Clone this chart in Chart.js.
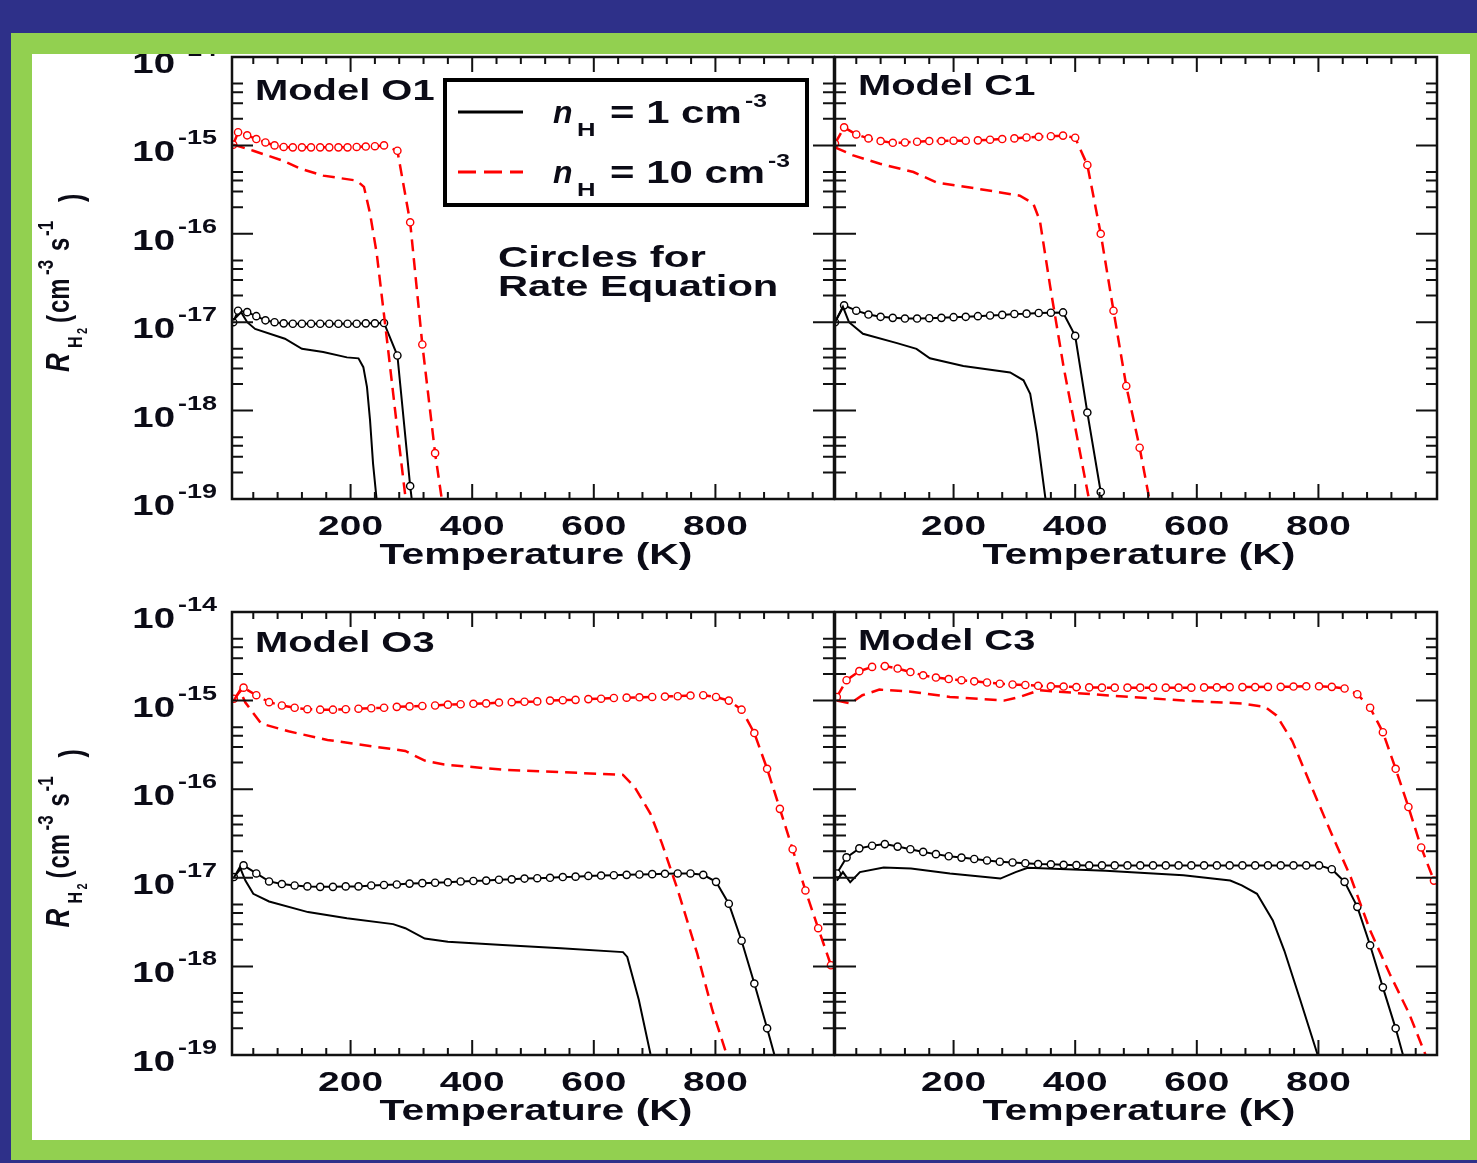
<!DOCTYPE html>
<html>
<head>
<meta charset="utf-8">
<script src="https://cdn.jsdelivr.net/npm/chart.js@4.4.1/dist/chart.umd.min.js"></script>
<style>
html, body { margin: 0; padding: 0; overflow: hidden; background: #2e3089; width: 1477px; height: 1163px; }
#white { position: absolute; left: 32px; top: 54px; width: 1438px; height: 1086px; background: #fff; }
#frame { position: absolute; left: 11px; top: 33px; width: 1480px; height: 1127px; box-sizing: border-box;
         border: 21px solid #92d050; border-bottom-width: 20px; z-index: 5; pointer-events: none; }
canvas { position: absolute; left: 0; top: 0; }
</style>
</head>
<body>
<div id="white"></div>
<canvas id="pO1" width="1477" height="1163"></canvas>
<canvas id="pC1" width="1477" height="1163"></canvas>
<canvas id="pO3" width="1477" height="1163"></canvas>
<canvas id="pC3" width="1477" height="1163"></canvas>
<div id="frame"></div>
<script>
// axis ticks
var xTickLabels = [200, 400, 600, 800];
var yTickExps = [-19, -18, -17, -16, -15, -14];

// ---- Model O1 ----
var o1_T_line1 = [7, 20, 30, 43, 92, 120, 155, 194, 213, 221, 227, 232, 237, 243];
var o1_R_line1 = [1.05e-17, 1.3e-17, 1.0e-17, 8.4e-18, 6.5e-18, 5.0e-18, 4.6e-18, 4.0e-18, 3.9e-18, 3.1e-18, 1.84e-18, 7.8e-19, 2.5e-19, 9.6e-20];
var o1_T_line10 = [7, 40, 89, 116, 155, 210, 222, 232, 243, 260, 275, 292];
var o1_R_line10 = [1.02e-15, 8.7e-16, 6.7e-16, 5.5e-16, 4.55e-16, 4.0e-16, 3.4e-16, 1.7e-16, 6.0e-17, 6.2e-18, 7.9e-19, 8.3e-20];
var o1_T_rate = [7, 15, 30, 45, 60, 75, 90, 105, 120, 135, 150, 165, 180, 195, 210, 225, 240, 255, 277, 298, 318, 339, 352];
var o1_R_rate1 = [1.0e-17, 1.35e-17, 1.3e-17, 1.17e-17, 1.05e-17, 1.0e-17, 9.7e-18, 9.6e-18, 9.6e-18, 9.6e-18, 9.6e-18,
                  9.6e-18, 9.6e-18, 9.6e-18, 9.6e-18, 9.7e-18, 9.7e-18, 9.8e-18, 4.2e-18, 1.4e-19, 1.0e-20];
var o1_R_rate10 = [1.02e-15, 1.41e-15, 1.3e-15, 1.18e-15, 1.08e-15, 1.0e-15, 9.6e-16, 9.5e-16, 9.5e-16, 9.5e-16, 9.5e-16,
                   9.5e-16, 9.5e-16, 9.5e-16, 9.6e-16, 9.7e-16, 9.8e-16, 1.0e-15, 8.7e-16, 1.35e-16, 5.6e-18, 3.3e-19, 8e-20];

// ---- Model C1 ----
var c1_T_line1 = [5, 18, 28, 51, 107, 139, 161, 216, 293, 315, 326, 337, 350, 353];
var c1_R_line1 = [1.0e-17, 1.5e-17, 1.0e-17, 7.4e-18, 5.8e-18, 5.0e-18, 3.9e-18, 3.2e-18, 2.7e-18, 2.2e-18, 1.55e-18, 5.5e-19, 1.15e-19, 8e-20];
var c1_T_line10 = [5, 35, 79, 134, 172, 244, 309, 331, 342, 359, 381, 402, 422, 426];
var c1_R_line10 = [9.5e-16, 7.7e-16, 6.2e-16, 5.0e-16, 3.8e-16, 3.2e-16, 2.7e-16, 2.2e-16, 1.4e-16, 2.5e-17, 3.1e-18, 5.5e-19, 1.05e-19, 7e-20];
var c1_T_rate = [5, 20, 40, 60, 80, 100, 120, 140, 160, 180, 200, 220, 240, 260, 280, 300, 320, 340, 360, 380, 400, 420, 442, 463, 484, 506, 528];
var c1_R_rate1 = [1.0e-17, 1.55e-17, 1.35e-17, 1.22e-17, 1.15e-17, 1.12e-17, 1.1e-17, 1.1e-17, 1.11e-17, 1.12e-17, 1.14e-17, 1.15e-17,
                  1.17e-17, 1.19e-17, 1.21e-17, 1.24e-17, 1.25e-17, 1.27e-17, 1.28e-17, 1.29e-17, 7.0e-18, 9.5e-19, 1.2e-19, 1.5e-20];
var c1_R_rate10 = [1.05e-15, 1.6e-15, 1.33e-15, 1.2e-15, 1.12e-15, 1.07e-15, 1.08e-15, 1.1e-15, 1.12e-15, 1.12e-15, 1.13e-15, 1.13e-15,
                   1.14e-15, 1.16e-15, 1.18e-15, 1.2e-15, 1.23e-15, 1.25e-15, 1.27e-15, 1.29e-15, 1.22e-15, 6.0e-16, 1.0e-16,
                   1.35e-17, 1.9e-18, 3.8e-19, 6e-20];

// ---- Model O3 / C3 (rate-equation circles on the same temperatures) ----
var T_rate_bottom = [8, 24, 45, 66, 87, 108, 129, 150, 171, 192, 213, 234, 255, 276, 297, 318, 339, 360, 381, 402, 423, 444,
                     465, 486, 507, 528, 549, 570, 591, 612, 633, 654, 675, 696, 717, 738, 759, 780, 801, 822, 843, 864, 885,
                     906, 927, 948, 969, 990];

var o3_T_line1 = [8, 18, 27, 40, 66, 130, 194, 270, 290, 322, 360, 450, 546, 648, 655, 674, 693, 700];
var o3_R_line1 = [1.0e-17, 1.32e-17, 9.3e-18, 6.6e-18, 5.4e-18, 4.1e-18, 3.5e-18, 3.0e-18, 2.7e-18, 2.06e-18, 1.9e-18, 1.74e-18,
                  1.6e-18, 1.45e-18, 1.28e-18, 4.2e-19, 1.04e-19, 7e-20];
var o3_T_line10 = [8, 18, 27, 53, 98, 162, 290, 322, 354, 450, 546, 648, 667, 693, 712, 738, 770, 795, 818, 825];
var o3_R_line10 = [1.0e-15, 1.3e-15, 9.5e-16, 5.5e-16, 4.5e-16, 3.6e-16, 2.7e-16, 2.1e-16, 1.9e-16, 1.66e-16, 1.56e-16, 1.45e-16,
                   1.06e-16, 5.3e-17, 2.45e-17, 7.3e-18, 1.4e-18, 3.2e-19, 1.04e-19, 7e-20];
var o3_R_rate1 = [1.02e-17, 1.38e-17, 1.12e-17, 9.1e-18, 8.5e-18, 8.2e-18, 8.0e-18, 7.9e-18, 7.9e-18, 8.0e-18, 8.0e-18, 8.2e-18,
                  8.3e-18, 8.4e-18, 8.6e-18, 8.7e-18, 8.8e-18, 8.9e-18, 9.1e-18, 9.2e-18, 9.3e-18, 9.5e-18, 9.6e-18, 9.8e-18,
                  9.9e-18, 1.0e-17, 1.02e-17, 1.03e-17, 1.05e-17, 1.06e-17, 1.07e-17, 1.08e-17, 1.09e-17, 1.1e-17, 1.11e-17,
                  1.12e-17, 1.12e-17, 1.08e-17, 9.0e-18, 5.1e-18, 1.95e-18, 6.4e-19, 2.0e-19, 6e-20];
var o3_R_rate10 = [1.05e-15, 1.4e-15, 1.15e-15, 9.6e-16, 8.8e-16, 8.3e-16, 8.0e-16, 7.9e-16, 7.9e-16, 8.0e-16, 8.1e-16, 8.2e-16,
                   8.3e-16, 8.5e-16, 8.6e-16, 8.7e-16, 8.8e-16, 9.0e-16, 9.1e-16, 9.2e-16, 9.3e-16, 9.5e-16, 9.6e-16, 9.7e-16,
                   9.8e-16, 1.0e-15, 1.01e-15, 1.02e-15, 1.04e-15, 1.05e-15, 1.07e-15, 1.08e-15, 1.09e-15, 1.1e-15, 1.11e-15,
                   1.12e-15, 1.14e-15, 1.15e-15, 1.1e-15, 1.0e-15, 7.9e-16, 4.3e-16, 1.7e-16, 6.0e-17, 2.1e-17, 7.2e-18,
                   2.7e-18, 1.03e-18];

var c3_T_line1 = [8, 18, 30, 46, 85, 130, 194, 277, 302, 322, 450, 578, 655, 674, 699, 725, 744, 770, 798, 805];
var c3_R_line1 = [9.3e-18, 1.16e-17, 8.9e-18, 1.16e-17, 1.31e-17, 1.27e-17, 1.12e-17, 9.8e-18, 1.16e-17, 1.3e-17, 1.2e-17, 1.07e-17,
                  9.3e-18, 8.2e-18, 6.6e-18, 3.3e-18, 1.5e-18, 4.2e-19, 1.04e-19, 7e-20];
var c3_T_line10 = [8, 30, 50, 78, 130, 194, 283, 309, 341, 450, 578, 674, 712, 731, 757, 789, 821, 853, 885, 917, 949, 975, 985];
var c3_R_line10 = [1.0e-15, 9.3e-16, 1.15e-15, 1.33e-15, 1.26e-15, 1.1e-15, 1.0e-15, 1.1e-15, 1.31e-15, 1.15e-15, 1.0e-15, 9.3e-16,
                   8.5e-16, 6.8e-16, 3.5e-16, 1.05e-16, 3.2e-17, 1.02e-17, 2.55e-18, 8.3e-19, 2.95e-19, 1.05e-19, 7e-20];
var c3_R_rate1 = [1.12e-17, 1.7e-17, 2.15e-17, 2.3e-17, 2.4e-17, 2.25e-17, 2.1e-17, 1.96e-17, 1.85e-17, 1.75e-17, 1.69e-17, 1.63e-17,
                  1.57e-17, 1.52e-17, 1.49e-17, 1.46e-17, 1.43e-17, 1.42e-17, 1.4e-17, 1.39e-17, 1.38e-17, 1.38e-17, 1.38e-17,
                  1.38e-17, 1.38e-17, 1.38e-17, 1.38e-17, 1.38e-17, 1.38e-17, 1.38e-17, 1.38e-17, 1.38e-17, 1.38e-17, 1.38e-17,
                  1.38e-17, 1.38e-17, 1.38e-17, 1.38e-17, 1.38e-17, 1.25e-17, 9.0e-18, 4.7e-18, 1.73e-18, 5.8e-19, 2.0e-19, 6e-20];
var c3_R_rate10 = [1.1e-15, 1.7e-15, 2.15e-15, 2.4e-15, 2.45e-15, 2.3e-15, 2.1e-15, 1.93e-15, 1.82e-15, 1.75e-15, 1.7e-15, 1.65e-15,
                   1.6e-15, 1.55e-15, 1.52e-15, 1.5e-15, 1.47e-15, 1.45e-15, 1.44e-15, 1.42e-15, 1.41e-15, 1.4e-15, 1.4e-15,
                   1.4e-15, 1.4e-15, 1.4e-15, 1.4e-15, 1.4e-15, 1.4e-15, 1.41e-15, 1.41e-15, 1.42e-15, 1.42e-15, 1.42e-15,
                   1.43e-15, 1.43e-15, 1.44e-15, 1.45e-15, 1.45e-15, 1.43e-15, 1.37e-15, 1.18e-15, 8.3e-16, 4.4e-16, 1.7e-16,
                   6.3e-17, 2.2e-17, 9.3e-18];

var W = 1477, H = 1163;
var INK = '#0b0b16';

function fontStr(size, italic) {
  return (italic ? 'italic ' : '') + 'bold ' + size + 'px "Liberation Sans", Arial, sans-serif';
}
function drawText(ctx, s, x, y, size, sx, align, italic) {
  ctx.font = fontStr(size, italic);
  var w = ctx.measureText(s).width * sx;
  var x0 = x;
  if (align === 'center') x0 = x - w / 2;
  else if (align === 'right') x0 = x - w;
  ctx.save();
  ctx.translate(x0, y);
  ctx.scale(sx, 1);
  ctx.textAlign = 'left';
  ctx.textBaseline = 'alphabetic';
  ctx.fillStyle = INK;
  ctx.fillText(s, 0, 0);
  ctx.restore();
  return w;
}

function pts(T, R) {
  var out = [];
  for (var i = 0; i < R.length; i++) out.push({x: T[i], y: R[i]});
  return out;
}

var panelDeco = {
  id: 'panelDeco',
  afterDatasetsDraw: function (chart, args, o) {
    var ctx = chart.ctx, a = chart.chartArea, xs = chart.scales.x, ys = chart.scales.y;
    ctx.save();
    ctx.strokeStyle = '#111';
    ctx.lineWidth = 2;
    ctx.beginPath();
    // x ticks, bottom and top, pointing in
    for (var v = 40; v < 1000; v += 40) {
      var px = xs.getPixelForValue(v);
      var len = (v % 200 === 0) ? 15 : 7;
      ctx.moveTo(px, a.bottom); ctx.lineTo(px, a.bottom - len);
      ctx.moveTo(px, a.top); ctx.lineTo(px, a.top + len);
    }
    // y ticks, left and right
    for (var e = -19; e <= -14; e++) {
      var ms = e === -14 ? [1] : [1, 2, 3, 4, 5];
      ms.forEach(function (m) {
        var py = ys.getPixelForValue(m * Math.pow(10, e));
        var l = m === 1 ? 21 : 11;
        ctx.moveTo(a.left, py); ctx.lineTo(a.left + l, py);
        ctx.moveTo(a.right, py); ctx.lineTo(a.right - l, py);
      });
    }
    ctx.stroke();
    ctx.lineWidth = 2.5;
    ctx.strokeRect(a.left, a.top, a.right - a.left, a.bottom - a.top);

    // x tick labels and title
    xTickLabels.forEach(function (v) {
      drawText(ctx, String(v), xs.getPixelForValue(v), a.bottom + 36, 28, 1.39, 'center');
    });
    drawText(ctx, 'Temperature (K)', (a.left + a.right) / 2 + 3, a.bottom + 65, 29, 1.41, 'center');

    // y tick labels and title
    if (o.yLabels) {
      yTickExps.forEach(function (e) {
        var py = ys.getPixelForValue(Math.pow(10, e));
        drawText(ctx, '10', a.left - 57, py + 16, 30, 1.28, 'right');
        drawText(ctx, '-' + Math.abs(e), a.left - 54, py - 1, 20, 1.35, 'left');
      });
      var cy = (a.top + a.bottom) / 2;
      ctx.save();
      ctx.translate(69, cy + 94);
      ctx.rotate(-Math.PI / 2);
      ctx.scale(1, 1.3);
      drawText(ctx, 'R', 0, 0, 26, 1, 'left', true);
      drawText(ctx, 'H', 24, 10, 16, 1, 'left');
      drawText(ctx, '2', 38, 14, 11, 1, 'left');
      drawText(ctx, '(', 49, 0, 24, 1, 'left');
      drawText(ctx, 'cm', 59, 0, 24, 1, 'left');
      drawText(ctx, '-3', 97, -12, 17, 1, 'left');
      drawText(ctx, 's', 121, 0, 24, 1, 'left');
      drawText(ctx, '-1', 136, -12, 17, 1, 'left');
      drawText(ctx, ')', 170, 10, 25, 1, 'left');
      ctx.restore();
    }

    // model name
    drawText(ctx, o.name, a.left + 23, a.top + o.nameDy, 30, 1.33, 'left');

    if (o.legend) {
      ctx.lineWidth = 4;
      ctx.strokeStyle = '#000';
      ctx.strokeRect(445, 80, 362, 125);
      ctx.lineWidth = 3;
      ctx.beginPath(); ctx.moveTo(458, 112); ctx.lineTo(523, 112); ctx.stroke();
      ctx.strokeStyle = '#ff0000';
      ctx.setLineDash([18, 8]);
      ctx.beginPath(); ctx.moveTo(458, 172); ctx.lineTo(523, 172); ctx.stroke();
      ctx.setLineDash([]);
      drawText(ctx, 'n', 553, 123, 32, 1, 'left', true);
      drawText(ctx, 'H', 577, 136, 19, 1.35, 'left');
      drawText(ctx, '= 1 cm', 610, 123, 32, 1.31, 'left');
      drawText(ctx, '-3', 745, 107, 19, 1.3, 'left');
      drawText(ctx, 'n', 553, 183, 32, 1, 'left', true);
      drawText(ctx, 'H', 577, 196, 19, 1.35, 'left');
      drawText(ctx, '= 10 cm', 610, 183, 32, 1.31, 'left');
      drawText(ctx, '-3', 768, 167, 19, 1.3, 'left');
      drawText(ctx, 'Circles for', 498, 267, 30, 1.4, 'left');
      drawText(ctx, 'Rate Equation', 498, 296, 30, 1.39, 'left');
    }
    ctx.restore();
  }
};

function lineSet(T, R, color, dashed) {
  return {data: pts(T, R), borderColor: color, borderWidth: dashed ? 2.5 : 2,
          borderDash: dashed ? [12, 7] : [], pointRadius: 0, tension: 0, fill: false};
}
function rateSet(T, R, color, dashed) {
  return {data: pts(T, R), borderColor: color, borderWidth: dashed ? 2.5 : 2,
          borderDash: dashed ? [12, 7] : [], pointRadius: 3.6, pointBorderWidth: 1.4,
          pointBackgroundColor: '#ffffff', pointBorderColor: color, tension: 0, fill: false};
}

function makePanel(id, box, deco, sets) {
  new Chart(document.getElementById(id), {
    type: 'line',
    data: {datasets: sets},
    options: {
      responsive: false,
      animation: false,
      events: [],
      layout: {padding: {left: box[0], top: box[1], right: W - box[2], bottom: H - box[3]}},
      scales: {
        x: {type: 'linear', min: 5, max: 995, display: false},
        y: {type: 'logarithmic', min: 1e-19, max: 1e-14, display: false}
      },
      plugins: {legend: {display: false}, tooltip: {enabled: false}, panelDeco: deco}
    },
    plugins: [panelDeco]
  });
}

makePanel('pO1', [232, 57, 834, 499], {name: 'Model O1', nameDy: 43, yLabels: true, legend: true}, [
  lineSet(o1_T_line1, o1_R_line1, '#000000', false),
  lineSet(o1_T_line10, o1_R_line10, '#ff0000', true),
  rateSet(o1_T_rate, o1_R_rate1, '#000000', false),
  rateSet(o1_T_rate, o1_R_rate10, '#ff0000', true)
]);
makePanel('pC1', [835, 57, 1437, 499], {name: 'Model C1', nameDy: 38, yLabels: false, legend: false}, [
  lineSet(c1_T_line1, c1_R_line1, '#000000', false),
  lineSet(c1_T_line10, c1_R_line10, '#ff0000', true),
  rateSet(c1_T_rate, c1_R_rate1, '#000000', false),
  rateSet(c1_T_rate, c1_R_rate10, '#ff0000', true)
]);
makePanel('pO3', [232, 612, 834, 1055], {name: 'Model O3', nameDy: 40, yLabels: true, legend: false}, [
  lineSet(o3_T_line1, o3_R_line1, '#000000', false),
  lineSet(o3_T_line10, o3_R_line10, '#ff0000', true),
  rateSet(T_rate_bottom, o3_R_rate1, '#000000', false),
  rateSet(T_rate_bottom, o3_R_rate10, '#ff0000', true)
]);
makePanel('pC3', [835, 612, 1437, 1055], {name: 'Model C3', nameDy: 38, yLabels: false, legend: false}, [
  lineSet(c3_T_line1, c3_R_line1, '#000000', false),
  lineSet(c3_T_line10, c3_R_line10, '#ff0000', true),
  rateSet(T_rate_bottom, c3_R_rate1, '#000000', false),
  rateSet(T_rate_bottom, c3_R_rate10, '#ff0000', true)
]);
</script>
</body>
</html>
